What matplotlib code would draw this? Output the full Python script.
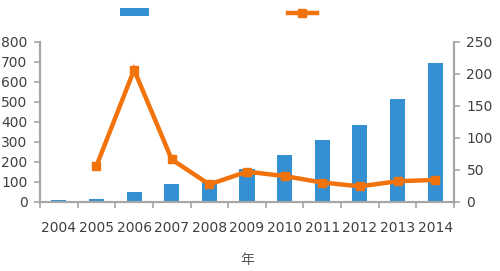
import matplotlib.pyplot as plt
import numpy as np

years = ['2004', '2005', '2006', '2007', '2008', '2009', '2010', '2011', '2012', '2013', '2014']
bar_vals = [9, 15, 48, 90, 108, 163, 232, 309, 384, 513, 695]
line_years = ['2005', '2006', '2007', '2008', '2009', '2010', '2011', '2012', '2013', '2014']
line_vals = [56, 206, 66, 27, 47, 40, 30, 24, 32, 34]

BLUE = '#3490D2'
ORANGE = '#F2720C'
AXC = '#A6A6A6'
TXT = '#404040'

plt.rcParams['font.family'] = ['DejaVu Sans', 'Noto Sans CJK SC']

fig = plt.figure(figsize=(5.0, 2.71), dpi=100)
ax = fig.add_axes([0.08, 0.2557, 0.828, 0.5903])
ax2 = ax.twinx()

x = np.arange(len(years))
lx = np.array([years.index(y) for y in line_years])

bars = ax.bar(x, bar_vals, width=0.4, color=BLUE, zorder=2)
line, = ax2.plot(lx, line_vals, color=ORANGE, lw=3.2, marker='s', ms=6,
                 solid_joinstyle='miter', zorder=3)

ax.set_xlim(-0.5, len(years) - 0.5)
ax.set_ylim(0, 800)
ax2.set_ylim(0, 250)
ax.set_yticks(range(0, 801, 100))
ax2.set_yticks(range(0, 251, 50))

ax.set_xticks(np.arange(-0.5, len(years), 1.0))
ax.set_xticklabels([])
ax.set_xticks(x, minor=True)
ax.set_xticklabels(years, minor=True)
ax.tick_params(axis='x', which='minor', length=0, pad=14, labelsize=10, labelcolor=TXT)
ax.tick_params(axis='x', which='major', length=4, width=1.2, color=AXC, direction='out')
ax.tick_params(axis='y', length=4, width=1.2, color=AXC, labelsize=10, labelcolor=TXT, pad=5)
ax2.tick_params(axis='y', length=4, width=1.2, color=AXC, labelsize=10, labelcolor=TXT, pad=5)

for a in (ax, ax2):
    a.spines['top'].set_visible(False)
    for s in ('left', 'right', 'bottom'):
        a.spines[s].set_color(AXC)
        a.spines[s].set_linewidth(1.5)

ax.set_xlabel('年', color='#595959', fontsize=10, labelpad=13,
              family=['Noto Sans CJK SC', 'DejaVu Sans'])

fig.legend([bars, line], ['', ''], loc='upper left', bbox_to_anchor=(0.232, 0.993),
           ncol=2, frameon=False, handlelength=2.1, handleheight=0.5,
           handletextpad=0, columnspacing=9.95, borderpad=0.3, borderaxespad=0)

fig.savefig('out.png', dpi=100)
